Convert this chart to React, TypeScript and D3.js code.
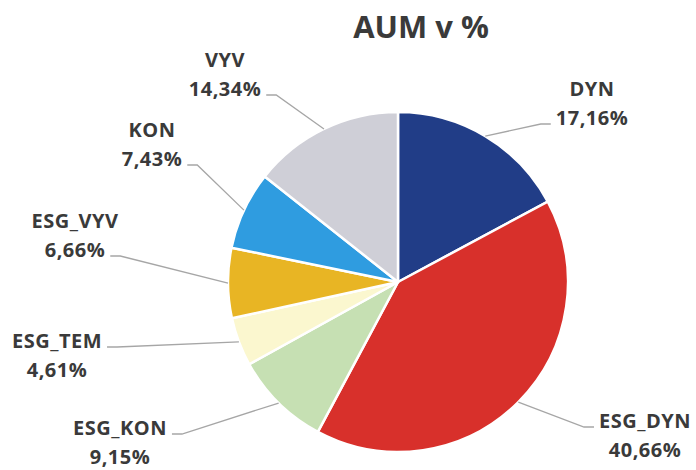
import * as d3 from 'd3';
import React, { useRef, useEffect } from 'react';

const categories = ['DYN', 'ESG_DYN', 'ESG_KON', 'ESG_TEM', 'ESG_VYV', 'KON', 'VYV'];
const shares = [17.16, 40.66, 9.15, 4.61, 6.66, 7.43, 14.34];
const shareLabels = ['17,16%', '40,66%', '9,15%', '4,61%', '6,66%', '7,43%', '14,34%'];
const colors = ['#213d87', '#d8302b', '#c6e0b3', '#fbf7cf', '#e8b524', '#2f9ce0', '#cfcfd7'];

// where each label sits (text centre x, first baseline y)
const labelSpots = [
  [592, 96], [645, 428], [120, 435], [57, 348], [75, 228], [152, 137], [225, 67],
];

const W = 696;
const H = 470;
const cx = 398;
const cy = 282;
const R = 170;

function App() {
  const ref = useRef<SVGSVGElement>(null);

  useEffect(() => {
    const svg = d3.select(ref.current);
    svg.selectAll('*').remove();

    const pie = d3.pie<number>().sort(null).value(d => d);
    const arcs = pie(shares);
    const arc = d3.arc<d3.PieArcDatum<number>>().innerRadius(0).outerRadius(R);

    const g = svg.append('g').attr('transform', `translate(${cx},${cy})`);
    g.selectAll('path')
      .data(arcs)
      .enter()
      .append('path')
      .attr('d', arc)
      .attr('fill', (d, i) => colors[i])
      .attr('stroke', '#fff')
      .attr('stroke-width', 2.5)
      .attr('stroke-linejoin', 'round');

    svg.append('text')
      .attr('x', 421)
      .attr('y', 38)
      .attr('text-anchor', 'middle')
      .attr('font-family', '"Open Sans", sans-serif')
      .attr('font-weight', 700)
      .attr('font-size', 31)
      .attr('fill', '#3a3a3a')
      .text('AUM v %');

    const labels = svg.append('g');
    const lines = svg.append('g');

    arcs.forEach((a, i) => {
      const [lx, ly] = labelSpots[i];
      const t = labels.append('text')
        .attr('text-anchor', 'middle')
        .attr('font-family', '"Open Sans", sans-serif')
        .attr('font-weight', 700)
        .attr('font-size', 20)
        .attr('letter-spacing', 0.5)
        .attr('fill', '#3a3a3a');
      t.append('tspan').attr('x', lx).attr('y', ly).text(categories[i]);
      const second = t.append('tspan').attr('x', lx).attr('y', ly + 29).text(shareLabels[i]);

      const mid = (a.startAngle + a.endAngle) / 2;
      const ex = cx + R * Math.sin(mid);
      const ey = cy - R * Math.cos(mid);

      // attach to lower line when label is above centre, upper line otherwise
      const useSecond = ly < cy;
      const node = useSecond ? (second.node() as SVGTSpanElement) : (t.select('tspan').node() as SVGTSpanElement);
      const w = node.getComputedTextLength();
      const ay = (useSecond ? ly + 29 : ly) - 1;
      const onRight = lx > cx;
      const sx = onRight ? lx - w / 2 - 5 : lx + w / 2 + 5;
      const kx = onRight ? sx - 10 : sx + 10;

      lines.append('path')
        .attr('d', d3.line()([[sx, ay], [kx, ay], [ex, ey]]))
        .attr('fill', 'none')
        .attr('stroke', '#a6a6a6')
        .attr('stroke-width', 1.3);
    });
  }, []);

  return (
    <svg
      ref={ref}
      width={W}
      height={H}
      style={{ position: 'absolute', left: 0, top: 0, background: '#fff' }}
    />
  );
}

export default App;
